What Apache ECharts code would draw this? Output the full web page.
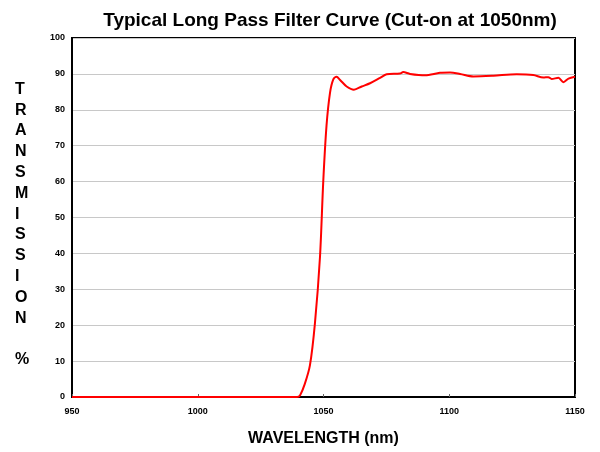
<!DOCTYPE html>
<html><head><meta charset="utf-8">
<script src="https://cdn.jsdelivr.net/npm/echarts@6/dist/echarts.min.js"></script>
<style>html,body{margin:0;padding:0;background:#fff}#c{width:600px;height:452px}</style>
</head><body><div id="c"></div>
<script>
var wavelengths = [950, 1000, 1039.5, 1040.7, 1042.5, 1044.6, 1046.6, 1048.6, 1049.9, 1051.2, 1052.6, 1053.9, 1055.2, 1056.6, 1059.2, 1062.1, 1065.2, 1068.5, 1072.5, 1075.1, 1080.4, 1081.7, 1084.4, 1090.4, 1096.3, 1100.3, 1104.3, 1109.6, 1117.5, 1126.8, 1133.4, 1137.4, 1139.4, 1140.7, 1143.4, 1145.4, 1147.4, 1150];
var transmission = [0, 0, 0, 0.5, 3.5, 8.8, 20.6, 39, 60, 75.6, 84.8, 88.5, 89.2, 88.3, 86.5, 85.6, 86.5, 87.4, 88.9, 89.9, 90.1, 90.5, 90.0, 89.6, 90.3, 90.4, 90.0, 89.3, 89.5, 89.9, 89.7, 89.0, 89.1, 88.6, 88.9, 87.7, 88.7, 89.2];
var xTicks = [950, 1000, 1050, 1100, 1150];
var yTicks = [0, 10, 20, 30, 40, 50, 60, 70, 80, 90, 100];

var data = wavelengths.map(function (w, i) { return [w, transmission[i]]; });
var chart = echarts.init(document.getElementById('c'));
var font = 'Liberation Sans, Arial, sans-serif';
chart.setOption({
  animation: false,
  title: {
    text: 'Typical Long Pass Filter Curve (Cut-on at 1050nm)',
    left: 325, top: 6, textAlign: 'center',
    textStyle: {fontFamily: font, fontSize: 19, fontWeight: 'bold', color: '#000'}
  },
  grid: {left: 72, right: 25, top: 38, bottom: 50, show: true, borderColor: '#000', borderWidth: 2, backgroundColor: 'transparent'},
  xAxis: {
    type: 'value', min: 950, max: 1150, interval: 50,
    name: 'WAVELENGTH (nm)', nameLocation: 'middle', nameGap: 34,
    nameTextStyle: {fontFamily: font, fontSize: 16, fontWeight: 'bold', color: '#000'},
    axisLine: {show: true, lineStyle: {color: '#000', width: 2}},
    axisTick: {show: true, inside: true, length: 3, lineStyle: {color: '#666'}},
    axisLabel: {fontFamily: font, fontSize: 9, fontWeight: 'bold', color: '#000', margin: 10,
      formatter: function (v) { return xTicks.indexOf(v) >= 0 ? String(v) : ''; }},
    splitLine: {show: false}
  },
  yAxis: {
    type: 'value', min: 0, max: 100, interval: 10,
    axisLine: {show: true, lineStyle: {color: '#000', width: 2}},
    axisTick: {show: false},
    axisLabel: {fontFamily: font, fontSize: 9, fontWeight: 'bold', color: '#000', margin: 7,
      formatter: function (v) { return yTicks.indexOf(v) >= 0 ? String(v) : ''; }},
    splitLine: {show: true, lineStyle: {color: '#c8c8c8', width: 1}}
  },
  graphic: [{
    type: 'text', left: 15, top: 79,
    style: {
      text: 'T\nR\nA\nN\nS\nM\nI\nS\nS\nI\nO\nN\n\n%',
      fontFamily: font, fontSize: 16, fontWeight: 'bold', fill: '#000',
      lineHeight: 20.8, align: 'center', width: 16
    }
  }],
  series: [{
    type: 'line', data: data, showSymbol: false, smooth: 0.3,
    lineStyle: {color: '#ff0000', width: 2}, z: 5
  }]
});
</script></body></html>
